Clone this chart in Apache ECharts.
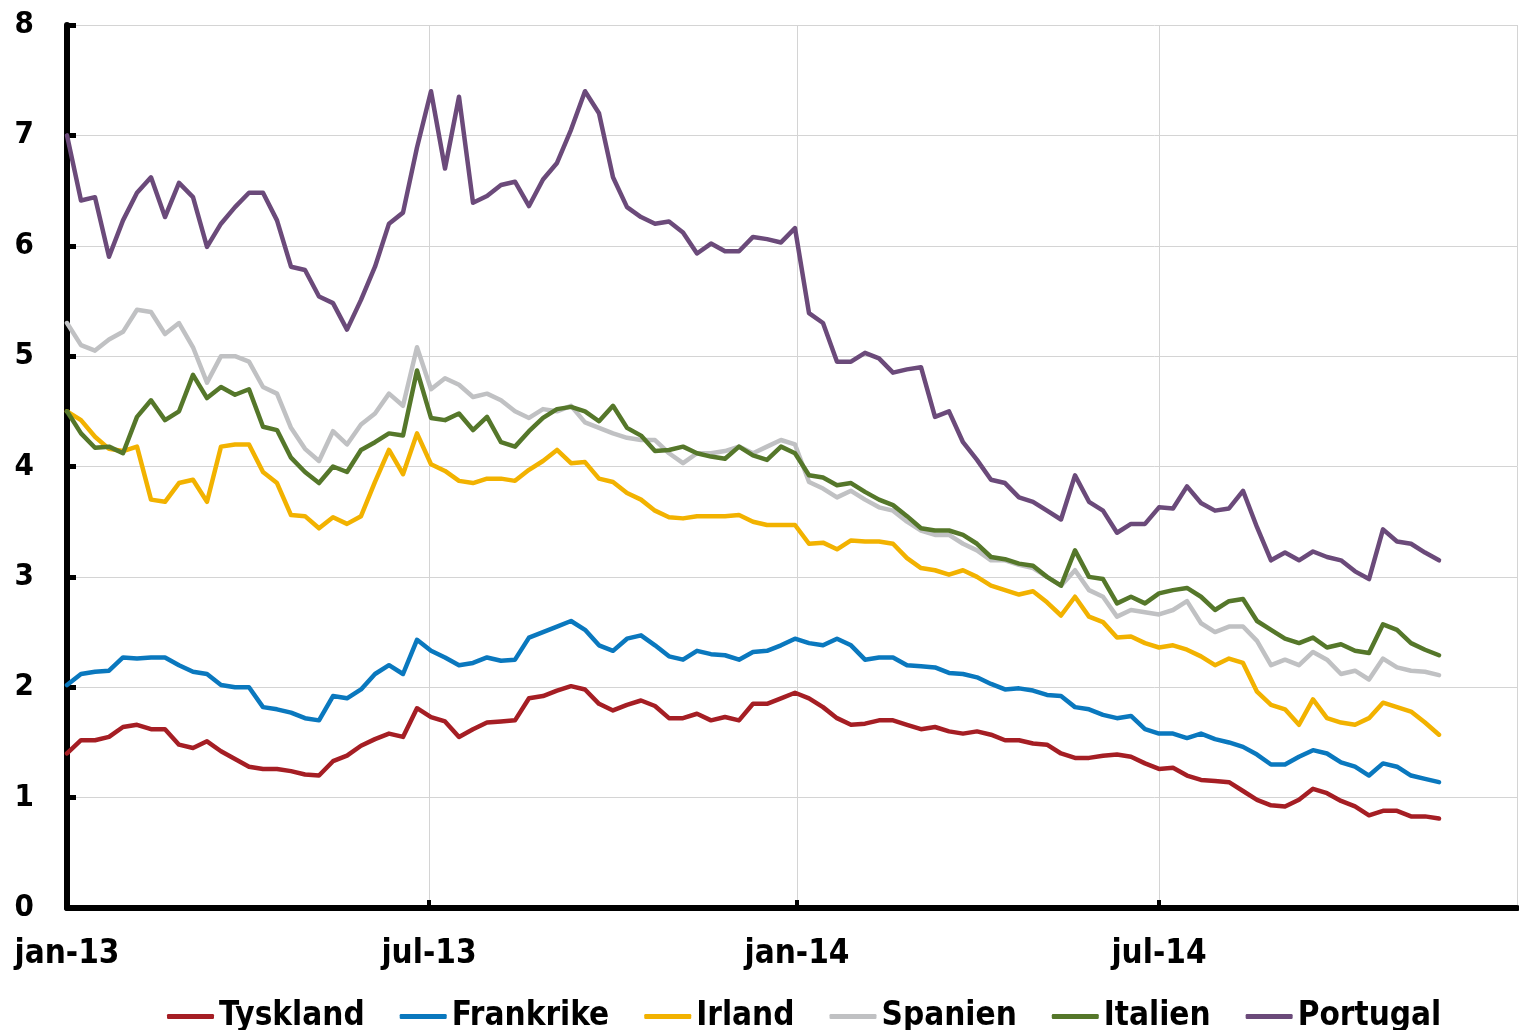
<!DOCTYPE html>
<html lang="no">
<head>
    <meta charset="UTF-8">
    <title>Tiårige statsrenter</title>
    <script src="https://cdn.jsdelivr.net/npm/echarts@6/dist/echarts.min.js"></script>
</head>
<body style="margin:0">
    <div style="width:1519px; height:1030px" id="main"></div>
    <script type="text/javascript">
        // weekly readings, first week 1 jan 2013
        var startYear = 2013, startMonth = 0, startDay = 1, stepDays = 7;
        var monthNames = ['jan','feb','mar','apr','mai','jun','jul','aug','sep','okt','nov','des'];
        var countries = ['Tyskland','Frankrike','Irland','Spanien','Italien','Portugal'];
        var colors = ['#A51E24','#0A78BE','#F2B200','#C0C1C3','#55772A','#6B4A7A'];

        var tyskland = [1.4,1.52,1.52,1.55,1.64,1.66,1.62,1.62,1.48,1.45,1.51,1.42,1.35,1.28,1.26,1.26,1.24,1.21,1.2,1.33,
            1.38,1.47,1.53,1.58,1.55,1.81,1.73,1.69,1.55,1.62,1.68,1.69,1.7,1.9,1.92,1.97,2.01,1.98,1.85,1.79,
            1.84,1.88,1.83,1.72,1.72,1.76,1.7,1.73,1.7,1.85,1.85,1.9,1.95,1.9,1.82,1.72,1.66,1.67,1.7,1.7,
            1.66,1.62,1.64,1.6,1.58,1.6,1.57,1.52,1.52,1.49,1.48,1.4,1.36,1.36,1.38,1.39,1.37,1.31,1.26,1.27,
            1.2,1.16,1.15,1.14,1.06,0.98,0.93,0.92,0.98,1.08,1.04,0.97,0.92,0.84,0.88,0.88,0.83,0.83,0.81];
        var frankrike = [2.02,2.12,2.14,2.15,2.27,2.26,2.27,2.27,2.2,2.14,2.12,2.02,2.0,2.0,1.82,1.8,1.77,1.72,1.7,1.92,
            1.9,1.98,2.12,2.2,2.12,2.43,2.33,2.27,2.2,2.22,2.27,2.24,2.25,2.45,2.5,2.55,2.6,2.52,2.38,2.33,
            2.44,2.47,2.38,2.28,2.25,2.33,2.3,2.29,2.25,2.32,2.33,2.38,2.44,2.4,2.38,2.44,2.38,2.25,2.27,2.27,
            2.2,2.19,2.18,2.13,2.12,2.09,2.03,1.98,1.99,1.97,1.93,1.92,1.82,1.8,1.75,1.72,1.74,1.62,1.58,1.58,
            1.54,1.58,1.53,1.5,1.46,1.39,1.3,1.3,1.37,1.43,1.4,1.32,1.28,1.2,1.31,1.28,1.2,1.17,1.14];
        var irland = [4.5,4.42,4.27,4.16,4.14,4.18,3.7,3.68,3.85,3.88,3.68,4.18,4.2,4.2,3.95,3.85,3.56,3.55,3.44,3.54,
            3.48,3.55,3.86,4.15,3.93,4.3,4.02,3.96,3.87,3.85,3.89,3.89,3.87,3.97,4.05,4.15,4.03,4.04,3.89,3.86,
            3.76,3.7,3.6,3.54,3.53,3.55,3.55,3.55,3.56,3.5,3.47,3.47,3.47,3.3,3.31,3.25,3.33,3.32,3.32,3.3,
            3.17,3.08,3.06,3.02,3.06,3.0,2.92,2.88,2.84,2.87,2.77,2.65,2.82,2.64,2.59,2.45,2.46,2.4,2.36,2.38,
            2.34,2.28,2.2,2.26,2.22,1.96,1.84,1.8,1.66,1.89,1.72,1.68,1.66,1.72,1.86,1.82,1.78,1.68,1.57];
        var spanien = [5.3,5.1,5.05,5.15,5.22,5.42,5.4,5.2,5.3,5.08,4.76,5.0,5.0,4.95,4.72,4.66,4.35,4.16,4.05,4.32,
            4.2,4.38,4.48,4.66,4.55,5.08,4.7,4.8,4.74,4.63,4.66,4.6,4.5,4.44,4.52,4.5,4.55,4.4,4.35,4.3,
            4.26,4.24,4.24,4.12,4.03,4.12,4.12,4.14,4.18,4.12,4.18,4.24,4.2,3.86,3.8,3.72,3.78,3.7,3.63,3.6,
            3.5,3.42,3.38,3.38,3.3,3.24,3.15,3.15,3.11,3.08,3.0,2.92,3.06,2.88,2.82,2.64,2.7,2.68,2.66,2.7,
            2.78,2.58,2.5,2.55,2.55,2.42,2.2,2.25,2.2,2.32,2.25,2.12,2.15,2.07,2.26,2.18,2.15,2.14,2.11];
        var italien = [4.5,4.3,4.17,4.18,4.12,4.45,4.6,4.42,4.5,4.83,4.62,4.72,4.65,4.7,4.36,4.33,4.08,3.95,3.85,4.0,
            3.95,4.15,4.22,4.3,4.28,4.87,4.44,4.42,4.48,4.33,4.45,4.22,4.18,4.32,4.44,4.52,4.54,4.5,4.41,4.55,
            4.35,4.28,4.14,4.15,4.18,4.12,4.09,4.07,4.18,4.1,4.06,4.18,4.12,3.92,3.9,3.83,3.85,3.77,3.7,3.65,
            3.55,3.44,3.42,3.42,3.38,3.3,3.18,3.16,3.12,3.1,3.0,2.92,3.24,3.0,2.98,2.76,2.82,2.76,2.85,2.88,
            2.9,2.82,2.7,2.78,2.8,2.6,2.52,2.44,2.4,2.45,2.36,2.39,2.33,2.31,2.57,2.52,2.4,2.34,2.29];
        var portugal = [7.0,6.41,6.44,5.9,6.23,6.48,6.62,6.26,6.57,6.44,5.99,6.2,6.35,6.48,6.48,6.23,5.81,5.78,5.54,5.48,
            5.24,5.51,5.81,6.2,6.3,6.89,7.4,6.7,7.35,6.39,6.45,6.55,6.58,6.36,6.6,6.75,7.05,7.4,7.2,6.62,
            6.35,6.26,6.2,6.22,6.12,5.93,6.02,5.95,5.95,6.08,6.06,6.03,6.16,5.39,5.3,4.95,4.95,5.03,4.98,4.85,
            4.88,4.9,4.45,4.5,4.22,4.06,3.88,3.85,3.72,3.68,3.6,3.52,3.92,3.68,3.6,3.4,3.48,3.48,3.63,3.62,
            3.82,3.67,3.6,3.62,3.78,3.45,3.15,3.22,3.15,3.23,3.18,3.15,3.05,2.98,3.43,3.32,3.3,3.22,3.15];
        var seriesValues = [tyskland, frankrike, irland, spanien, italien, portugal];

        var axisStart = new Date(2013, 0, 1).getTime();
        var axisEnd = new Date(2014, 11, 27).getTime();
        var fontFamily = "'DejaVu Sans Condensed', 'DejaVu Sans', sans-serif";

        var dates = [];
        for (var i = 0; i < portugal.length; i++) {
            dates.push(new Date(startYear, startMonth, startDay + i * stepDays).getTime());
        }

        var series = countries.map(function (name, s) {
            return {
                name: name,
                type: 'line',
                showSymbol: false,
                animation: false,
                lineStyle: {width: 4.5, color: colors[s], cap: 'round', join: 'round'},
                itemStyle: {color: colors[s]},
                data: seriesValues[s].map(function (v, i) { return [dates[i], v]; })
            };
        });

        var myChart = echarts.init(document.getElementById('main'));
        var option = {
            backgroundColor: '#ffffff',
            animation: false,
            grid: {left: 67, right: 2, top: 25, bottom: 122, containLabel: false},
            legend: {
                top: 995,
                left: 162,
                icon: 'roundRect',
                itemWidth: 47,
                itemHeight: 5,
                itemGap: 35,
                data: countries,
                textStyle: {fontSize: 33, fontWeight: 'bold', color: '#000', fontFamily: fontFamily}
            },
            xAxis: {
                type: 'time',
                min: axisStart,
                max: axisEnd,
                splitNumber: 4,
                minInterval: 180 * 86400000,
                axisLine: {lineStyle: {color: '#000', width: 6}},
                axisTick: {show: true, inside: true, length: 8, lineStyle: {color: '#000', width: 4}},
                splitLine: {show: true, lineStyle: {color: '#D4D4D4', width: 1}},
                axisLabel: {
                    margin: 30,
                    fontSize: 33,
                    fontWeight: 'bold',
                    color: '#000',
                    fontFamily: fontFamily,
                    formatter: function (val) {
                        var d = new Date(val);
                        return monthNames[d.getMonth()] + '-' + String(d.getFullYear()).slice(2);
                    }
                }
            },
            yAxis: {
                type: 'value',
                min: 0,
                max: 8,
                interval: 1,
                axisLine: {show: true, lineStyle: {color: '#000', width: 6}},
                axisTick: {show: true, inside: true, length: 9, lineStyle: {color: '#000', width: 5}},
                splitLine: {show: true, lineStyle: {color: '#D4D4D4', width: 1}},
                axisLabel: {margin: 33, fontSize: 31, fontWeight: 'bold', color: '#000', fontFamily: fontFamily}
            },
            series: series
        };
        myChart.setOption(option);
    </script>
</body>
</html>
